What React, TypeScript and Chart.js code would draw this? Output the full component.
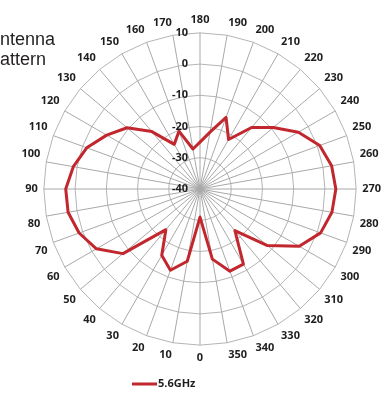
import React, { useEffect, useRef } from 'react';
import { Chart, registerables } from 'chart.js';

Chart.register(...registerables);

// Angle labels, clockwise from the top of the chart
const ANGLE_LABELS = [
  '180', '190', '200', '210', '220', '230', '240', '250', '260', '270', '280', '290',
  '300', '310', '320', '330', '340', '350', '0', '10', '20', '30', '40', '50',
  '60', '70', '80', '90', '100', '110', '120', '130', '140', '150', '160', '170',
];

// Gain (dB) at each angle above
const GAIN_5_6GHZ = [
  -25, -21.5, -15.6, -21.7, -14.3, -9.4, -3.6, 0.8, 2.8, 3.5, 2.9, 1.1,
  -3.3, -11.8, -22.6, -12.2, -12, -17.2, -31, -16.5, -12.3, -15.5, -23, -7.8,
  -1.7, 1.2, 2.9, 3, 1.2, -1.4, -5.5, -9.5, -16, -23.5, -20.3, -27,
];

const SERIES_NAME = '5.6GHz';
const RADIAL_TICKS = [-40, -30, -20, -10, 0, 10];
const TITLE_LINES = ['Antenna', 'Pattern'];

const RED = '#c1272d';
const TEXT = '#1e1e1e';
const FONT = '"Open Sans", Lato, sans-serif';

export default function App() {
  const ref = useRef<HTMLCanvasElement>(null);

  useEffect(() => {
    const canvas = ref.current!;
    const overlay = {
      id: 'overlay',
      afterDraw(chart: any) {
        const ctx = chart.ctx as CanvasRenderingContext2D;
        const scale = chart.scales.r;
        ctx.save();
        // radial tick labels
        ctx.fillStyle = TEXT;
        ctx.font = `bold 11px ${FONT}`;
        ctx.textAlign = 'right';
        ctx.textBaseline = 'middle';
        RADIAL_TICKS.forEach((v) => {
          const y = scale.yCenter - scale.getDistanceFromCenterForValue(v);
          ctx.fillText(String(v), scale.xCenter - 12, y);
        });
        // title (clipped at the left edge)
        ctx.fillStyle = '#231f20';
        ctx.font = '18px "Liberation Sans", Arial, sans-serif';
        ctx.textAlign = 'left';
        ctx.textBaseline = 'alphabetic';
        ctx.fillText(TITLE_LINES[0], -12, 45);
        ctx.fillText(TITLE_LINES[1], -12, 65);
        // legend
        const ds = chart.data.datasets[0];
        ctx.strokeStyle = ds.borderColor;
        ctx.lineWidth = 3;
        ctx.beginPath();
        ctx.moveTo(132, 384);
        ctx.lineTo(157, 384);
        ctx.stroke();
        ctx.fillStyle = TEXT;
        ctx.font = `bold 11px ${FONT}`;
        ctx.textBaseline = 'middle';
        ctx.fillText(ds.label, 158, 384);
        ctx.restore();
      },
    };

    const chart = new Chart(canvas, {
      type: 'radar',
      data: {
        labels: ANGLE_LABELS,
        datasets: [
          {
            label: SERIES_NAME,
            data: GAIN_5_6GHZ,
            borderColor: RED,
            backgroundColor: RED,
            borderWidth: 3,
            pointRadius: 0,
            fill: false,
            tension: 0,
            borderJoinStyle: 'round',
          },
        ],
      },
      options: {
        responsive: false,
        animation: false,
        devicePixelRatio: 1,
        layout: { padding: { left: 21, right: 7, top: 8, bottom: 23 } },
        plugins: { legend: { display: false }, tooltip: { enabled: false } },
        scales: {
          r: {
            min: -40,
            max: 10,
            ticks: { stepSize: 10, display: false },
            grid: { color: '#b4b4b4', lineWidth: 1 },
            angleLines: { color: '#a8a8a8', lineWidth: 1 },
            pointLabels: {
              font: { family: FONT, size: 11, weight: 'bold' },
              color: TEXT,
              padding: 6,
            },
          },
        },
      } as any,
      plugins: [overlay],
    });
    return () => chart.destroy();
  }, []);

  return (
    <div style={{ position: 'fixed', left: 0, top: 0, width: 390, height: 393 }}>
      <canvas ref={ref} width={390} height={393} />
    </div>
  );
}
